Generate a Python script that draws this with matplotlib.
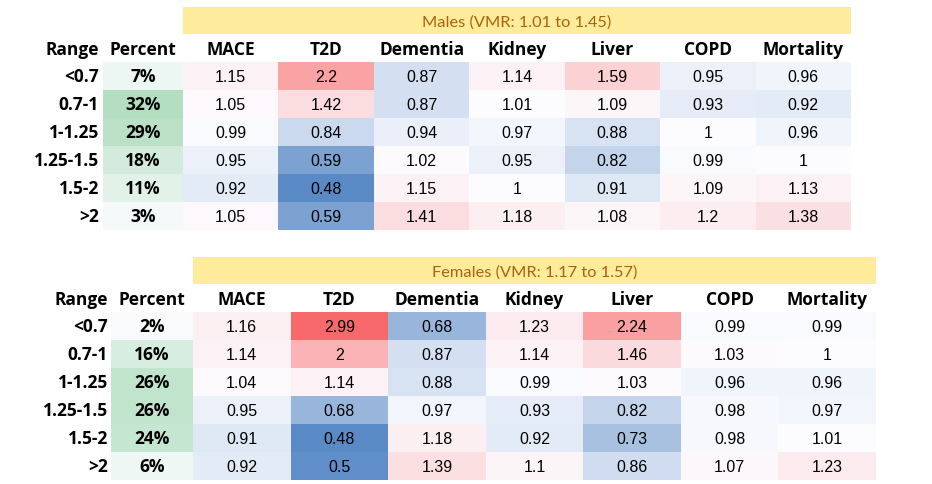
import numpy as np
import matplotlib
matplotlib.use("Agg")
import matplotlib.pyplot as plt
from matplotlib.colors import LinearSegmentedColormap, TwoSlopeNorm, Normalize

# ---------------- data ----------------
outcomes = ["MACE", "T2D", "Dementia", "Kidney", "Liver", "COPD", "Mortality"]
ranges = ["<0.7", "0.7-1", "1-1.25", "1.25-1.5", "1.5-2", ">2"]

male_title = "Males (VMR: 1.01 to 1.45)"
male_percent = [7, 32, 29, 18, 11, 3]
male_mace = [1.15, 1.05, 0.99, 0.95, 0.92, 1.05]
male_t2d = [2.2, 1.42, 0.84, 0.59, 0.48, 0.59]
male_dementia = [0.87, 0.87, 0.94, 1.02, 1.15, 1.41]
male_kidney = [1.14, 1.01, 0.97, 0.95, 1, 1.18]
male_liver = [1.59, 1.09, 0.88, 0.82, 0.91, 1.08]
male_copd = [0.95, 0.93, 1, 0.99, 1.09, 1.2]
male_mortality = [0.96, 0.92, 0.96, 1, 1.13, 1.38]

female_title = "Females (VMR: 1.17 to 1.57)"
female_percent = [2, 16, 26, 26, 24, 6]
female_mace = [1.16, 1.14, 1.04, 0.95, 0.91, 0.92]
female_t2d = [2.99, 2, 1.14, 0.68, 0.48, 0.5]
female_dementia = [0.68, 0.87, 0.88, 0.97, 1.18, 1.39]
female_kidney = [1.23, 1.14, 0.99, 0.93, 0.92, 1.1]
female_liver = [2.24, 1.46, 1.03, 0.82, 0.73, 0.86]
female_copd = [0.99, 1.03, 0.96, 0.98, 0.98, 1.07]
female_mortality = [0.99, 1, 0.96, 0.97, 1.01, 1.23]

male_matrix = np.array([male_mace, male_t2d, male_dementia, male_kidney,
                        male_liver, male_copd, male_mortality]).T
female_matrix = np.array([female_mace, female_t2d, female_dementia, female_kidney,
                          female_liver, female_copd, female_mortality]).T

# ---------------- styles ----------------
W, H = 932, 485
fig = plt.figure(figsize=(W / 100, H / 100), dpi=100)
ax = fig.add_axes([0, 0, 1, 1])
ax.set_xlim(0, W)
ax.set_ylim(H, 0)
ax.axis("off")

hr_cmap = LinearSegmentedColormap.from_list("hr", ["#5A8AC6", "#FCFCFF", "#F8696B"])
allv = np.concatenate([male_matrix.ravel(), female_matrix.ravel()])
hr_norm = TwoSlopeNorm(vmin=allv.min(), vcenter=1.0, vmax=allv.max())
pct_cmap = LinearSegmentedColormap.from_list("pct", ["#FCFCFF", "#63BE7B"])
pct_norm = Normalize(vmin=0, vmax=67)

HEAD_FONT = dict(family="Open Sans", weight="bold", fontsize=12.5)
RANGE_FONT = dict(family="Open Sans", weight="bold", fontsize=12.5)
NUM_FONT = dict(family="Liberation Sans", fontsize=11.5)
BAN_FONT = dict(family="Lato", fontsize=11.8, color="#A8640C")

# layout of each table (figure pixels)
layouts = [
    dict(title=male_title, pct=male_percent, mat=male_matrix,
         range_x=99, pct_x0=103, x0=183, x1=851, ban_y0=8, ban_y1=35,
         head_y=50, y0=63, y1=231),
    dict(title=female_title, pct=female_percent, mat=female_matrix,
         range_x=108, pct_x0=111, x0=193, x1=876, ban_y0=258, ban_y1=285,
         head_y=300, y0=313, y1=481),
]

for L in layouts:
    mat = L["mat"]
    nr, nc = mat.shape
    xe = np.linspace(L["x0"], L["x1"], nc + 1)
    ye = np.linspace(L["y0"], L["y1"], nr + 1)
    ax.pcolormesh(xe, ye, mat, cmap=hr_cmap, norm=hr_norm, shading="flat")
    pct = np.array(L["pct"], dtype=float).reshape(-1, 1)
    ax.pcolormesh([L["pct_x0"], L["x0"]], ye, pct, cmap=pct_cmap, norm=pct_norm,
                  shading="flat")
    # banner
    ax.fill_between([L["x0"], L["x1"]], L["ban_y0"], L["ban_y1"], color="#FFEB9C", lw=0)
    ax.text((L["x0"] + L["x1"]) / 2, (L["ban_y0"] + L["ban_y1"]) / 2 + 1, L["title"],
            ha="center", va="center", **BAN_FONT)
    # headers
    ax.text(L["range_x"], L["head_y"], "Range", ha="right", va="center", **HEAD_FONT)
    ax.text((L["pct_x0"] + L["x0"]) / 2, L["head_y"], "Percent", ha="center",
            va="center", **HEAD_FONT)
    xc = (xe[:-1] + xe[1:]) / 2
    yc = (ye[:-1] + ye[1:]) / 2
    for j, name in enumerate(outcomes):
        ax.text(xc[j], L["head_y"], name, ha="center", va="center", **HEAD_FONT)
    for i in range(nr):
        ax.text(L["range_x"], yc[i], ranges[i], ha="right", va="center", **RANGE_FONT)
        ax.text((L["pct_x0"] + L["x0"]) / 2, yc[i], f"{L['pct'][i]}%", ha="center",
                va="center", **HEAD_FONT)
        for j in range(nc):
            ax.text(xc[j], yc[i] + 1, f"{mat[i, j]:g}", ha="center", va="center",
                    **NUM_FONT)

fig.savefig("out.png", dpi=100)
